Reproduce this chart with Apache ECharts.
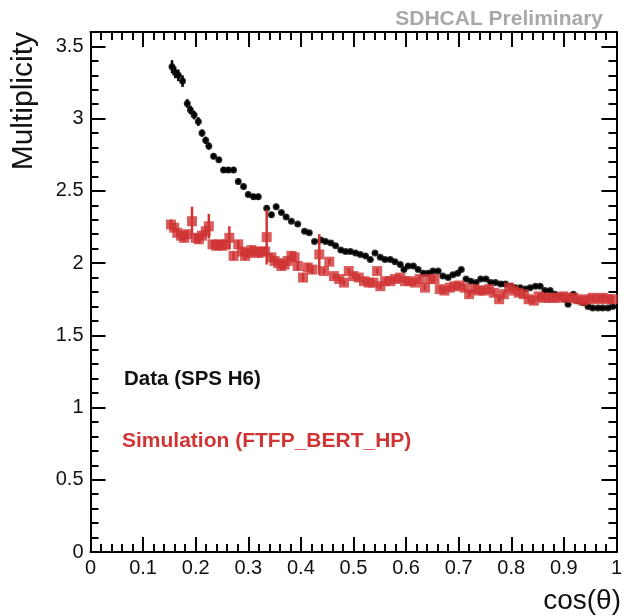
<!DOCTYPE html>
<html>
<head>
<meta charset="utf-8">
<script src="https://cdn.jsdelivr.net/npm/echarts@6/dist/echarts.min.js"></script>
<style>
  html, body { margin: 0; padding: 0; background: #fff; }
  #chart { width: 625px; height: 616px; }
</style>
</head>
<body>
<div id="chart"></div>
<script>
  // Data (SPS H6) - black points
  var dataX = [0.155, 0.161, 0.167, 0.175, 0.184, 0.190, 0.197, 0.205, 0.212, 0.219,
    0.225, 0.234, 0.244, 0.253, 0.262, 0.272, 0.281, 0.291, 0.300, 0.310,
    0.319, 0.335, 0.344, 0.353, 0.363, 0.372, 0.382, 0.394, 0.407, 0.416,
    0.426, 0.438, 0.447, 0.457, 0.466, 0.476, 0.485, 0.494, 0.504, 0.513,
    0.523, 0.532, 0.541, 0.551, 0.560, 0.570, 0.579, 0.589, 0.596, 0.604,
    0.614, 0.623, 0.633, 0.642, 0.651, 0.661, 0.670, 0.680, 0.689, 0.698,
    0.705, 0.714, 0.723, 0.733, 0.742, 0.752, 0.761, 0.770, 0.780, 0.789,
    0.799, 0.808, 0.817, 0.827, 0.836, 0.846, 0.855, 0.864, 0.874, 0.883,
    0.893, 0.902, 0.908, 0.918, 0.927, 0.937, 0.946, 0.955, 0.965, 0.974,
    0.984, 0.993];
  var dataY = [3.36, 3.32, 3.30, 3.26, 3.105, 3.06, 3.025, 2.98, 2.90, 2.85,
    2.81, 2.74, 2.715, 2.645, 2.645, 2.645, 2.565, 2.53, 2.475, 2.46,
    2.46, 2.38, 2.335, 2.39, 2.35, 2.32, 2.29, 2.27, 2.22, 2.21,
    2.15, 2.16, 2.15, 2.14, 2.12, 2.09, 2.08, 2.08, 2.07, 2.06,
    2.05, 2.025, 2.07, 2.04, 2.025, 2.025, 2.01, 1.99, 1.955, 1.98,
    1.98, 1.955, 1.93, 1.93, 1.945, 1.945, 1.91, 1.90, 1.92, 1.93,
    1.955, 1.89, 1.875, 1.865, 1.89, 1.89, 1.865, 1.865, 1.855, 1.855,
    1.84, 1.83, 1.83, 1.82, 1.83, 1.84, 1.84, 1.81, 1.81, 1.785,
    1.77, 1.75, 1.715, 1.785, 1.74, 1.725, 1.70, 1.69, 1.69, 1.69,
    1.69, 1.70];
  var dataErr = [0.045, 0.04, 0.04, 0.04, 0.03, 0.03, 0.03, 0.03, 0.025, 0.025,
    0.025, 0.02, 0.02, 0.02, 0.02, 0.02, 0.02, 0.02, 0.02, 0.02,
    0.02, 0.02, 0.02, 0.02, 0.015, 0.015, 0.015, 0.015, 0.015, 0.015,
    0.015, 0.015, 0.015, 0.015, 0.015, 0.015, 0.015, 0.015, 0.015, 0.015,
    0.015, 0.015, 0.015, 0.015, 0.015, 0.015, 0.015, 0.015, 0.015, 0.015,
    0.015, 0.015, 0.015, 0.015, 0.015, 0.015, 0.015, 0.015, 0.015, 0.015,
    0.015, 0.015, 0.015, 0.015, 0.015, 0.015, 0.015, 0.015, 0.015, 0.015,
    0.015, 0.015, 0.015, 0.015, 0.015, 0.015, 0.015, 0.015, 0.015, 0.015,
    0.015, 0.015, 0.015, 0.015, 0.015, 0.015, 0.015, 0.015, 0.015, 0.015,
    0.015, 0.015];

  // Simulation (FTFP_BERT_HP) - red squares
  var simX = [0.153, 0.159, 0.165, 0.172, 0.178, 0.184, 0.193, 0.200, 0.206, 0.212,
    0.219, 0.225, 0.232, 0.239, 0.245, 0.251, 0.257, 0.264, 0.272, 0.281,
    0.288, 0.294, 0.300, 0.306, 0.313, 0.319, 0.325, 0.332, 0.335, 0.344,
    0.350, 0.357, 0.363, 0.369, 0.375, 0.382, 0.388, 0.394, 0.404, 0.413,
    0.422, 0.435, 0.444, 0.454, 0.463, 0.473, 0.482, 0.491, 0.500, 0.510,
    0.520, 0.529, 0.538, 0.545, 0.551, 0.560, 0.570, 0.579, 0.589, 0.598,
    0.607, 0.617, 0.626, 0.636, 0.645, 0.654, 0.664, 0.673, 0.683, 0.692,
    0.701, 0.711, 0.720, 0.730, 0.739, 0.748, 0.758, 0.767, 0.777, 0.786,
    0.796, 0.805, 0.814, 0.824, 0.833, 0.843, 0.852, 0.861, 0.871, 0.880,
    0.890, 0.899, 0.908, 0.918, 0.927, 0.937, 0.946, 0.955, 0.965, 0.974,
    0.984, 0.993];
  var simY = [2.267, 2.245, 2.21, 2.19, 2.175, 2.20, 2.29, 2.175, 2.165, 2.19,
    2.22, 2.255, 2.13, 2.12, 2.13, 2.12, 2.13, 2.175, 2.05, 2.13,
    2.08, 2.05, 2.07, 2.09, 2.08, 2.07, 2.08, 2.08, 2.18, 2.04,
    2.015, 2.00, 1.98, 1.99, 2.015, 2.05, 2.04, 1.98, 1.90, 1.97,
    1.955, 2.06, 1.945, 2.01, 1.91, 1.89, 1.865, 1.945, 1.91, 1.90,
    1.875, 1.865, 1.865, 1.945, 1.84, 1.875, 1.875, 1.89, 1.90, 1.875,
    1.875, 1.865, 1.89, 1.83, 1.89, 1.89, 1.82, 1.81, 1.83, 1.84,
    1.845, 1.83, 1.785, 1.82, 1.81, 1.81, 1.82, 1.795, 1.75, 1.785,
    1.83, 1.81, 1.795, 1.785, 1.75, 1.74, 1.77, 1.76, 1.76, 1.76,
    1.76, 1.77, 1.76, 1.76, 1.75, 1.74, 1.75, 1.76, 1.75, 1.76,
    1.75, 1.75];
  var simErr = [0.035, 0.03, 0.03, 0.03, 0.03, 0.03, 0.10, 0.03, 0.03, 0.03,
    0.04, 0.085, 0.03, 0.03, 0.03, 0.03, 0.03, 0.08, 0.03, 0.03,
    0.03, 0.03, 0.03, 0.03, 0.03, 0.03, 0.03, 0.03, 0.19, 0.03,
    0.03, 0.03, 0.03, 0.03, 0.03, 0.03, 0.03, 0.03, 0.03, 0.03,
    0.03, 0.14, 0.02, 0.02, 0.02, 0.02, 0.02, 0.02, 0.02, 0.02,
    0.02, 0.02, 0.02, 0.02, 0.02, 0.02, 0.02, 0.02, 0.02, 0.02,
    0.02, 0.02, 0.02, 0.02, 0.02, 0.02, 0.02, 0.02, 0.02, 0.02,
    0.02, 0.02, 0.02, 0.02, 0.02, 0.02, 0.02, 0.02, 0.02, 0.02,
    0.02, 0.02, 0.02, 0.02, 0.02, 0.02, 0.02, 0.02, 0.02, 0.02,
    0.02, 0.02, 0.02, 0.02, 0.02, 0.02, 0.02, 0.02, 0.02, 0.02,
    0.02, 0.02];

  var xTicks = ['0', '0.1', '0.2', '0.3', '0.4', '0.5', '0.6', '0.7', '0.8', '0.9', '1'];
  var yTicks = ['0', '0.5', '1', '1.5', '2', '2.5', '3', '3.5'];

  var RED = '#d03434';
  var FONT = '"Liberation Sans", Arial, sans-serif';
  var halfBin = 0.0047;

  function zip(xs, ys, es) {
    return xs.map(function (x, i) { return [x, ys[i], es[i]]; });
  }

  function errorBars(color, withX) {
    return function (params, api) {
      var x = api.value(0), y = api.value(1), e = api.value(2);
      var lo = api.coord([x, y - e]), hi = api.coord([x, y + e]);
      var children = [{
        type: 'line',
        shape: { x1: lo[0], y1: lo[1], x2: hi[0], y2: hi[1] },
        style: { stroke: color, lineWidth: 2.5 }
      }];
      if (withX) {
        var l = api.coord([x - halfBin, y]), r = api.coord([x + halfBin, y]);
        children.push({
          type: 'line',
          shape: { x1: l[0], y1: l[1], x2: r[0], y2: r[1] },
          style: { stroke: color, lineWidth: 2.5 }
        });
      }
      return { type: 'group', children: children };
    };
  }

  function xAxisCfg(pos, labels) {
    return {
      type: 'value', position: pos, min: 0, max: 1, interval: 0.1,
      axisLine: { show: true, onZero: false, lineStyle: { color: '#000', width: 2 } },
      axisTick: { show: true, inside: true, length: 15, lineStyle: { color: '#000', width: 2 } },
      minorTick: { show: true, splitNumber: 5, length: 8, lineStyle: { color: '#000', width: 2 } },
      splitLine: { show: false },
      axisLabel: {
        show: labels, margin: 6, color: '#111', fontSize: 20, fontFamily: FONT,
        formatter: function (v) { return xTicks[Math.round(v * 10)]; }
      }
    };
  }

  function yAxisCfg(pos, labels) {
    return {
      type: 'value', position: pos, min: 0, max: 3.6, interval: 0.5,
      axisLine: { show: true, onZero: false, lineStyle: { color: '#000', width: 2 } },
      axisTick: { show: true, inside: true, length: 15, lineStyle: { color: '#000', width: 2 } },
      minorTick: { show: true, splitNumber: 5, length: 8, lineStyle: { color: '#000', width: 2 } },
      splitLine: { show: false },
      axisLabel: {
        show: labels, margin: 7, color: '#111', fontSize: 20, fontFamily: FONT,
        formatter: function (v) {
          var k = Math.round(v * 2);
          return Math.abs(v * 2 - k) < 1e-6 && k < yTicks.length ? yTicks[k] : '';
        }
      }
    };
  }

  var chart = echarts.init(document.getElementById('chart'));
  chart.setOption({
    backgroundColor: '#fff',
    animation: false,
    grid: { left: 90.5, right: 3, top: 32, bottom: 64 },
    xAxis: [xAxisCfg('bottom', true), xAxisCfg('top', false)],
    yAxis: [yAxisCfg('left', true), yAxisCfg('right', false)],
    graphic: [
      { type: 'text', right: 22, top: 9,
        style: { text: 'SDHCAL Preliminary', fill: '#a8a8a8', font: 'bold 21px ' + FONT } },
      { type: 'text', x: 24, y: 32, rotation: Math.PI / 2,
        style: { text: 'Multiplicity', fill: '#111', font: '30px ' + FONT, align: 'right', verticalAlign: 'middle' } },
      { type: 'text', x: 621, y: 601,
        style: { text: 'cos(θ)', fill: '#111', font: '28px ' + FONT, align: 'right', verticalAlign: 'middle' } },
      { type: 'text', x: 124, y: 379,
        style: { text: 'Data (SPS H6)', fill: '#111', font: 'bold 20.5px ' + FONT, verticalAlign: 'middle' } },
      { type: 'text', x: 122, y: 441,
        style: { text: 'Simulation (FTFP_BERT_HP)', fill: RED, font: 'bold 21px ' + FONT, verticalAlign: 'middle' } }
    ],
    series: [
      {
        name: 'Data (SPS H6) errors', type: 'custom',
        renderItem: errorBars('#000', true),
        data: zip(dataX, dataY, dataErr), z: 2
      },
      {
        name: 'Data (SPS H6)', type: 'scatter', symbol: 'circle', symbolSize: 7,
        itemStyle: { color: '#000' },
        data: zip(dataX, dataY, dataErr), z: 3
      },
      {
        name: 'Simulation (FTFP_BERT_HP) errors', type: 'custom',
        renderItem: errorBars(RED, false),
        data: zip(simX, simY, simErr), z: 4
      },
      {
        name: 'Simulation (FTFP_BERT_HP)', type: 'scatter', symbol: 'rect', symbolSize: 10,
        itemStyle: { color: RED },
        data: zip(simX, simY, simErr), z: 5
      }
    ]
  });
</script>
</body>
</html>
